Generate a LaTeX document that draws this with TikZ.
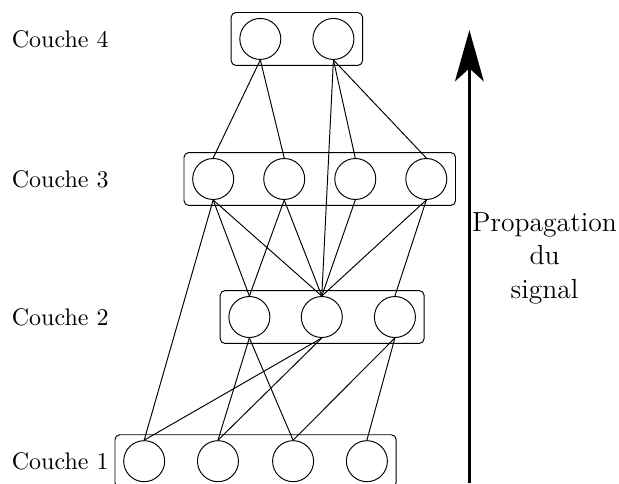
\documentclass[tikz,border=0pt]{standalone}
\usepackage{tikz}
\usetikzlibrary{arrows.meta,fit}

\begin{document}
\begin{tikzpicture}[
    neuron/.style={draw,circle,minimum size=0.6cm,inner sep=0pt},
    layer/.style={draw,rounded corners=2pt,inner xsep=0.12cm,inner ysep=0.08cm}
  ]
      \useasboundingbox (0, 0) rectangle (9.06, 7.07);
      % neurones
      \node[neuron] (n41) at (3.81, 6.50) {};
      \node[neuron] (n42) at (4.88, 6.50) {};
      \node[neuron] (n31) at (3.12, 4.45) {};
      \node[neuron] (n32) at (4.16, 4.45) {};
      \node[neuron] (n33) at (5.20, 4.45) {};
      \node[neuron] (n34) at (6.24, 4.45) {};
      \node[neuron] (n21) at (3.65, 2.43) {};
      \node[neuron] (n22) at (4.71, 2.43) {};
      \node[neuron] (n23) at (5.78, 2.43) {};
      \node[neuron] (n11) at (2.11, 0.32) {};
      \node[neuron] (n12) at (3.19, 0.32) {};
      \node[neuron] (n13) at (4.29, 0.32) {};
      \node[neuron] (n14) at (5.37, 0.32) {};
      % couches
      \node[layer,fit=(n41)(n42)] (c4) {};
      \node[layer,fit=(n31)(n34)] (c3) {};
      \node[layer,fit=(n21)(n23)] (c2) {};
      \node[layer,fit=(n11)(n14)] (c1) {};
      \node[anchor=west] (label4) at (0.05, 6.50) {Couche 4};
      \node[anchor=west] (label3) at (0.05, 4.45) {Couche 3};
      \node[anchor=west] (label2) at (0.05, 2.43) {Couche 2};
      \node[anchor=west] (label1) at (0.05, 0.32) {Couche 1};
      % connexions
      \draw (n41.south) to (n31.north);
      \draw (n41.south) to (n32.north);
      \draw (n42.south) to (n33.north);
      \draw (n42.south) to (n34.north);
      \draw (n42.south) to (n22.north);
      \draw (n31.south) to (n21.north);
      \draw (n31.south) to (n22.north);
      \draw (n31.south) to (n11.north);
      \draw (n32.south) to (n21.north);
      \draw (n32.south) to (n22.north);
      \draw (n33.south) to (n22.north);
      \draw (n34.south) to (n22.north);
      \draw (n34.south) to (n23.north);
      \draw (n21.south) to (n12.north);
      \draw (n21.south) to (n13.north);
      \draw (n22.south) to (n11.north);
      \draw (n22.south) to (n12.north);
      \draw (n23.south) to (n13.north);
      \draw (n23.south) to (n14.north);
      % signal
      \coordinate (a0) at (6.87, 0);
      \coordinate (a1) at (6.87, 6.63);
      \draw[-{Stealth[length=0.75cm,width=0.42cm,inset=0.19cm]},line width=1.25pt] (a0) to (a1);
      \node[align=center,font=\fontsize{11.5}{14}\selectfont] (label5) at (7.97, 3.29) {Propagation\\du\\signal};
    \end{tikzpicture}
\end{document}
